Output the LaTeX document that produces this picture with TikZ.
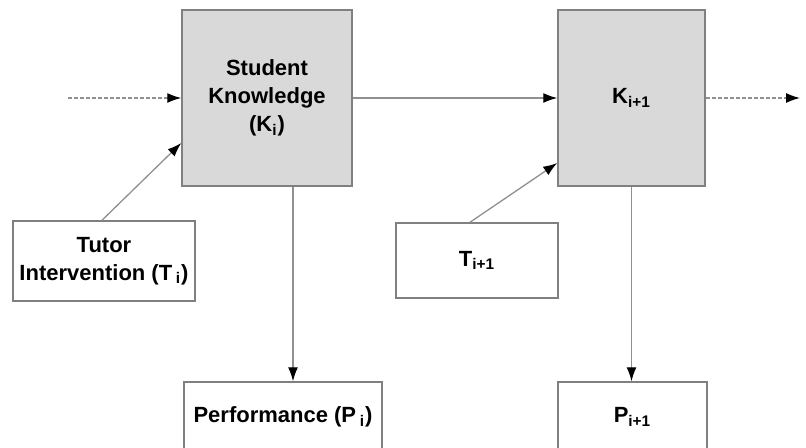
\documentclass[tikz,border=0pt]{standalone}
\usepackage{fontspec}
\setmainfont{Liberation Sans}
\usepackage{xcolor}
\usetikzlibrary{arrows.meta}
\definecolor{boxgray}{HTML}{D9D9D9}
\definecolor{edgegray}{HTML}{808080}
\definecolor{linegray}{HTML}{909090}
\tikzset{
  kbox/.style={draw=edgegray, line width=0.75pt, fill=boxgray, align=center,
    font=\fontsize{11}{14}\selectfont\bfseries, inner sep=0pt},
  tbox/.style={draw=edgegray, line width=0.75pt, fill=white, align=center,
    font=\fontsize{11}{14}\selectfont\bfseries, inner sep=0pt},
  conn/.style={draw=linegray, line width=0.65pt, -{Latex[length=7pt,width=5pt,color=black]}},
  dconn/.style={conn, dash pattern=on 2pt off 1pt}
}
\begin{document}
\begin{tikzpicture}[x=0.5pt,y=-0.5pt]
\clip (0,0) rectangle (806,448);
% knowledge states
\node[kbox, minimum width=85pt, minimum height=88pt] (knowA) at (267,98) {Student\\Knowledge\\(K\textsubscript{i})};
\node[kbox, minimum width=73.5pt, minimum height=88pt] (knowB) at (631.5,98) {K\textsubscript{i+1}};
% tutor interventions
\node[tbox, minimum width=91pt, minimum height=40pt] (tutA) at (104,261) {Tutor\\Intervention (T\,\textsubscript{i})};
\node[tbox, minimum width=81pt, minimum height=37.5pt] (tutB) at (477,260.5) {T\textsubscript{i+1}};
% performance
\node[tbox, minimum width=99pt, minimum height=35pt] (perfA) at (283,417) {Performance (P\,\textsubscript{i})};
\node[tbox, minimum width=74.5pt, minimum height=35pt] (perfB) at (632.5,417) {P\textsubscript{i+1}};
\coordinate (inL) at (68,98);
\coordinate (outR) at (800,98);
% connectors
\draw[dconn] (inL) -- (knowA.west);
\draw[conn] (knowA.east) -- (knowB.west);
\draw[dconn] (knowB.east) -- (outR);
\draw[conn] ([xshift=-1pt]tutA.north) -- ([yshift=-22.5pt]knowA.west);
\draw[conn] ([xshift=-3.5pt]tutB.north) -- ([yshift=-32.5pt]knowB.west);
\draw[conn] ([xshift=13pt]knowA.south) -- ([xshift=13pt]knowA.south |- perfA.north);
\draw[conn] (knowB.south) -- (knowB.south |- perfB.north);
\end{tikzpicture}
\end{document}
